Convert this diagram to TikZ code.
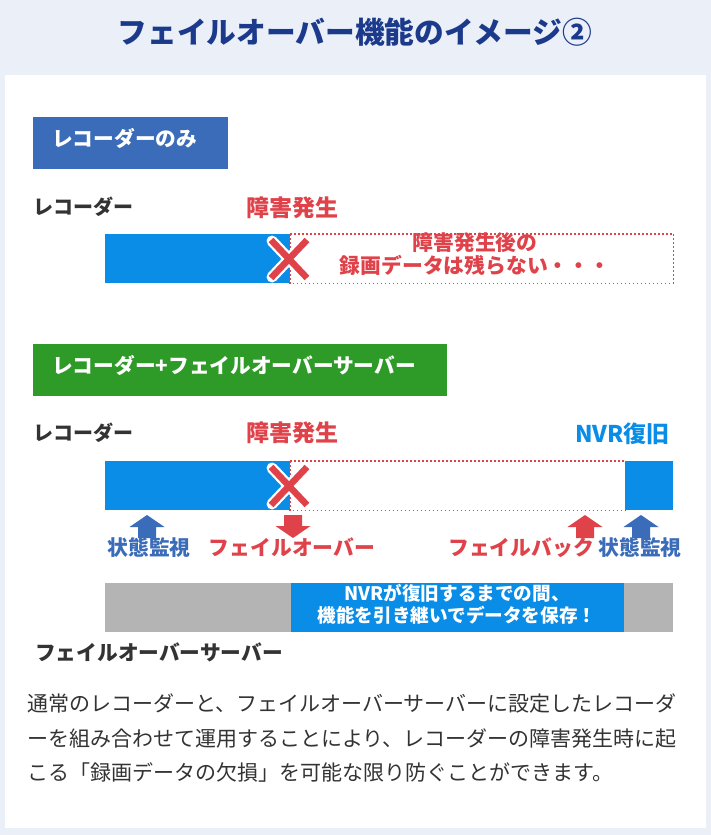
\documentclass[tikz,border=0pt]{standalone}
\usepackage{fontspec}
\setmainfont{Noto Sans CJK JP}
\usetikzlibrary{positioning}
\definecolor{bgc}{HTML}{EBF0F8}
\definecolor{titlec}{HTML}{1C3A8C}
\definecolor{boxblue}{HTML}{3A6CB9}
\definecolor{boxgreen}{HTML}{2E9A27}
\definecolor{barblue}{HTML}{0A8DE6}
\definecolor{redc}{HTML}{E0424A}
\definecolor{grayc}{HTML}{B4B4B4}
\definecolor{txtc}{HTML}{333333}
\tikzset{
  x=1pt,y=-1pt,
  jt/.style={inner sep=0pt,text height=0.88em,text depth=0.12em},
  lbl/.style={jt,font=\fontsize{20}{20}\selectfont\bfseries,text=txtc},
  redlbl/.style={jt,font=\fontsize{23}{23}\selectfont\bfseries,text=redc},
  head/.style={rectangle,inner sep=0pt,anchor=north west,text=white,font=\fontsize{19}{19}\selectfont\bfseries},
  headtxt/.style={jt,text=white,font=\fontsize{20.7}{20.7}\selectfont\bfseries,anchor=west},
  bar/.style={rectangle,inner sep=0pt,anchor=north west,minimum height=49pt},
  dotbox/.style={draw=redc,line width=1.8pt,dash pattern=on 1.8pt off 2.2pt},
  armlbl/.style={jt,font=\fontsize{20.8}{20.8}\selectfont\bfseries},
  redmsg/.style={jt,text=redc,font=\fontsize{20.8}{20.8}\selectfont\bfseries},
  whitemsg/.style={jt,text=white,font=\fontsize{18.6}{18.6}\selectfont\bfseries},
  para/.style={jt,text=txtc,font=\fontsize{21}{21}\selectfont,anchor=west},
}
\newcommand{\myup}[3]{% x, ytop, color
  \fill[#3] (#1,#2) -- (#1+17.5,#2+12) -- (#1+9,#2+12) -- (#1+9,#2+23) -- (#1-9,#2+23) -- (#1-9,#2+12) -- (#1-17.5,#2+12) -- cycle;}
\newcommand{\mydown}[3]{% x, ytop, color
  \fill[#3] (#1-9,#2) -- (#1+9,#2) -- (#1+9,#2+11) -- (#1+17.5,#2+11) -- (#1,#2+23) -- (#1-17.5,#2+11) -- (#1-9,#2+11) -- cycle;}
\newcommand{\mycross}[2]{% cx, cy
  \draw[white,line width=11pt,line cap=round] (#1-17,#2-18) -- (#1+17,#2+18) (#1-17,#2+18) -- (#1+17,#2-18);
  \draw[redc,line width=6.5pt,line cap=butt] (#1-18,#2-19) -- (#1+18,#2+19) (#1-18,#2+19) -- (#1+18,#2-19);}
\begin{document}
\begin{tikzpicture}
\useasboundingbox (0,0) rectangle (711,835);
\fill[bgc] (0,0) rectangle (711,835);
\fill[white] (5,75) rectangle (706,828);
\node[jt,text=titlec,font=\fontsize{29.7}{29.7}\selectfont\bfseries] (title) at (355,40) {フェイルオーバー機能のイメージ②};

% section 1
\node[head,fill=boxblue,minimum width=195pt,minimum height=52pt] (h1) at (33,117) {};
\node[headtxt] (h1t) at (52,143) {レコーダーのみ};
\node[lbl,anchor=west] (r1) at (33,211) {レコーダー};
\node[redlbl] (f1) at (292,213) {障害発生};
\node[bar,fill=barblue,minimum width=185pt] (b1) at (105,234) {};
\node[bar,minimum width=383pt] (d1) at (290,234) {};
\draw[dotbox] (d1.north west) rectangle (d1.south east);
\mycross{289}{259}
\node[redmsg] (m1) at (475,247) {障害発生後の};
\node[redmsg] (m2) at (475,270) {録画データは残らない・・・};

% section 2
\node[head,fill=boxgreen,minimum width=414pt,minimum height=52pt] (h2) at (33,344) {};
\node[headtxt] (h2t) at (52,370) {レコーダー+フェイルオーバーサーバー};
\node[lbl,anchor=west] (r2) at (33,437) {レコーダー};
\node[redlbl] (f2) at (292,438) {障害発生};
\node[jt,text=barblue,font=\fontsize{23}{23}\selectfont\bfseries,anchor=east] (nvr) at (670,439) {NVR復旧};
\node[bar,fill=barblue,minimum width=185pt] (b2) at (105,461) {};
\node[bar,minimum width=335pt] (d2) at (290,461) {};
\node[bar,fill=barblue,minimum width=48pt] (b3) at (625,461) {};
\draw[dotbox] (d2.north west) rectangle (d2.south east);
\mycross{289}{486}

\myup{147}{515}{boxblue}
\mydown{293}{515}{redc}
\myup{585}{515}{redc}
\myup{641}{515}{boxblue}
\node[armlbl,text=boxblue] (s1) at (149,552) {状態監視};
\node[armlbl,text=redc] (fo) at (292,552) {フェイルオーバー};
\node[armlbl,text=redc] (fb) at (521,552) {フェイルバック};
\node[armlbl,text=boxblue] (s2) at (640,552) {状態監視};

\node[bar,fill=grayc,minimum width=568pt] (g) at (105,583) {};
\node[bar,fill=barblue,minimum width=333pt] (gb) at (291,583) {};
\node[whitemsg] (w1) at (457,597) {NVRが復旧するまでの間、};
\node[whitemsg] (w2) at (457,619) {機能を引き継いでデータを保存！};
\node[lbl,anchor=west,font=\fontsize{20.7}{20.7}\selectfont\bfseries] (fs) at (35,657) {フェイルオーバーサーバー};

% paragraph
\node[para] (p1) at (27,708) {通常のレコーダーと、フェイルオーバーサーバーに設定したレコーダ};
\node[para] (p2) at (27,743) {ーを組み合わせて運用することにより、レコーダーの障害発生時に起};
\node[para] (p3) at (27,777) {こる「録画データの欠損」を可能な限り防ぐことができます。};
\end{tikzpicture}
\end{document}
